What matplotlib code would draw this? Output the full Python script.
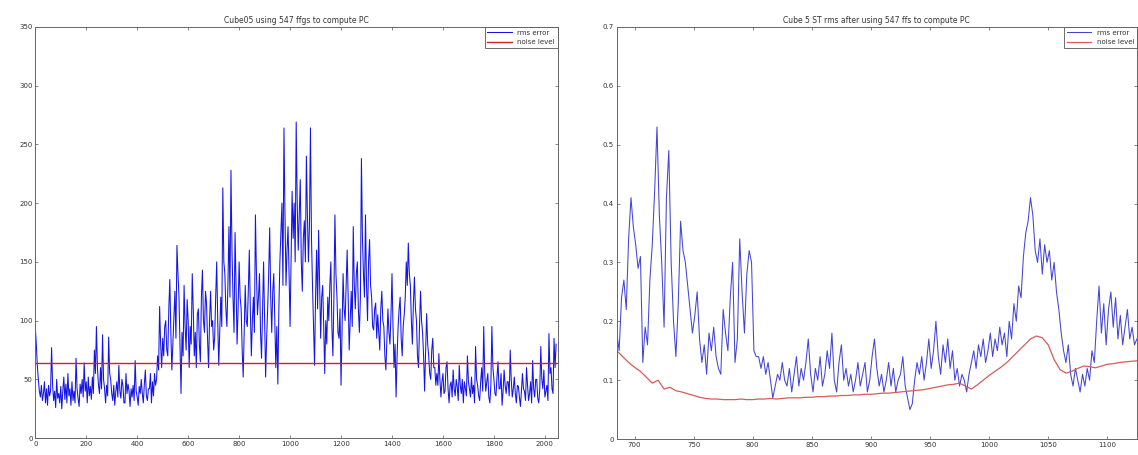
import numpy as np
import matplotlib.pyplot as plt
from matplotlib.ticker import FormatStrFormatter

# left panel: rms error sampled every 4 bands
rms_left = [
    95, 80, 62, 50, 40, 35, 45, 32,
    38, 48, 30, 42, 28, 45, 36, 40,
    77, 45, 32, 40, 26, 50, 34, 38,
    30, 44, 25, 40, 52, 33, 46, 30,
    55, 36, 42, 28, 48, 32, 40, 30,
    68, 42, 34, 27, 46, 38, 50, 35,
    64, 40, 48, 30, 52, 36, 44, 33,
    52, 38, 75, 55, 95, 60, 45, 38,
    60, 42, 88, 50, 42, 30, 45, 36,
    86, 55, 50, 38, 32, 45, 28, 40,
    48, 35, 62, 40, 34, 50, 45, 30,
    30, 55, 38, 46, 40, 27, 42, 35,
    45, 32, 66, 40, 35, 28, 44, 38,
    50, 38, 30, 46, 58, 36, 32, 42,
    42, 55, 30, 48, 36, 55, 45, 50,
    70, 58, 112, 80, 60, 85, 70, 95,
    100, 75, 70, 110, 135, 90, 58, 80,
    100, 125, 85, 164, 140, 120, 80, 38,
    90, 70, 130, 95, 75, 118, 100, 60,
    95, 80, 140, 110, 70, 90, 60, 105,
    110, 80, 65, 120, 143, 100, 90, 125,
    115, 85, 60, 100, 125, 95, 100, 75,
    85, 120, 150, 100, 62, 90, 120, 95,
    213, 150, 140, 110, 95, 130, 180, 120,
    228, 160, 120, 90, 175, 130, 80, 110,
    150, 120, 110, 75, 52, 90, 130, 100,
    95, 125, 160, 110, 70, 100, 120, 90,
    190, 140, 105, 120, 140, 90, 68, 110,
    150, 100, 52, 85, 110, 140, 179, 120,
    90, 125, 140, 100, 60, 95, 46, 110,
    150, 175, 200, 130, 264, 190, 130, 160,
    180, 140, 95, 150, 210, 170, 200, 150,
    269, 200, 160, 190, 220, 150, 125, 170,
    185, 150, 240, 190, 150, 180, 264, 170,
    130, 95, 62, 120, 160, 110, 177, 130,
    85, 120, 130, 95, 55, 100, 80, 120,
    100, 130, 150, 95, 70, 120, 190, 140,
    120, 90, 85, 110, 45, 95, 140, 110,
    100, 130, 160, 120, 75, 100, 125, 95,
    180, 130, 110, 140, 150, 110, 90, 120,
    238, 170, 140, 120, 190, 130, 100, 150,
    169, 130, 120, 95, 92, 110, 115, 85,
    105, 90, 75, 110, 125, 100, 95, 70,
    58, 85, 110, 90, 80, 105, 140, 95,
    60, 80, 35, 70, 95, 110, 120, 85,
    70, 95, 105, 120, 150, 130, 166, 140,
    130, 100, 80, 115, 137, 110, 100, 70,
    60, 95, 125, 100, 90, 70, 40, 75,
    106, 80, 70, 55, 50, 75, 85, 60,
    60, 45, 55, 45, 72, 50, 35, 48,
    55, 38, 40, 60, 65, 42, 30, 45,
    48, 35, 58, 42, 36, 50, 44, 32,
    62, 45, 38, 50, 30, 48, 42, 36,
    70, 48, 42, 35, 52, 38, 45, 30,
    78, 50, 45, 36, 32, 48, 60, 40,
    95, 55, 40, 48, 55, 35, 30, 45,
    95, 60, 50, 38, 36, 52, 65, 42,
    42, 55, 28, 40, 58, 45, 38, 48,
    48, 36, 75, 50, 35, 42, 52, 38,
    30, 45, 44, 35, 27, 40, 55, 42,
    40, 32, 60, 45, 32, 38, 48, 30,
    66, 42, 35, 50, 50, 34, 30, 42,
    78, 50, 42, 58, 35, 40, 45, 32,
    89, 55, 60, 42, 38, 85, 60, 80,
]
noise_left = 64
x_left = np.arange(len(rms_left)) * 4

# right panel: rms error after projection (every 2 units)
x_right = np.arange(685, 1126, 2)
rms_right = [
    0.18, 0.15, 0.24, 0.27, 0.22, 0.34, 0.41, 0.36, 0.33, 0.29,
    0.31, 0.13, 0.19, 0.16, 0.27, 0.33, 0.42, 0.53, 0.38, 0.30,
    0.19, 0.41, 0.49, 0.30, 0.20, 0.14, 0.23, 0.37, 0.32, 0.30,
    0.26, 0.22, 0.18, 0.21, 0.25, 0.17, 0.13, 0.16, 0.11, 0.18,
    0.15, 0.19, 0.14, 0.12, 0.11, 0.22, 0.18, 0.15, 0.24, 0.30,
    0.13, 0.17, 0.34, 0.25, 0.18, 0.28, 0.32, 0.30, 0.15, 0.14,
    0.14, 0.12, 0.14, 0.11, 0.13, 0.10, 0.07, 0.09, 0.11, 0.10,
    0.13, 0.10, 0.09, 0.12, 0.08, 0.11, 0.14, 0.09, 0.12, 0.10,
    0.13, 0.17, 0.11, 0.08, 0.12, 0.10, 0.14, 0.09, 0.11, 0.15,
    0.12, 0.18, 0.10, 0.08, 0.13, 0.16, 0.10, 0.12, 0.09, 0.11,
    0.08, 0.10, 0.13, 0.09, 0.11, 0.13, 0.08, 0.10, 0.14, 0.17,
    0.12, 0.09, 0.11, 0.08, 0.10, 0.13, 0.09, 0.12, 0.08, 0.10,
    0.11, 0.14, 0.09, 0.07, 0.05, 0.06, 0.10, 0.13, 0.11, 0.14,
    0.10, 0.13, 0.17, 0.12, 0.15, 0.20, 0.14, 0.11, 0.16, 0.13,
    0.17, 0.12, 0.15, 0.10, 0.12, 0.09, 0.11, 0.10, 0.08, 0.11,
    0.13, 0.15, 0.12, 0.16, 0.14, 0.17, 0.13, 0.15, 0.18, 0.14,
    0.17, 0.15, 0.19, 0.16, 0.18, 0.14, 0.20, 0.17, 0.23, 0.20,
    0.26, 0.24, 0.31, 0.35, 0.37, 0.41, 0.38, 0.32, 0.30, 0.34,
    0.28, 0.33, 0.30, 0.32, 0.27, 0.30, 0.25, 0.22, 0.18, 0.15,
    0.13, 0.16, 0.11, 0.09, 0.12, 0.10, 0.08, 0.11, 0.09, 0.12,
    0.10, 0.15, 0.13, 0.20, 0.26, 0.18, 0.23, 0.16, 0.22, 0.25,
    0.19, 0.24, 0.17, 0.21, 0.16, 0.19, 0.22, 0.17, 0.19, 0.16,
    0.17,
]
x_noise_right = np.arange(685, 1126, 5)
noise_right = [
    0.150, 0.140, 0.130, 0.122, 0.115, 0.105, 0.095, 0.100, 0.085, 0.088,
    0.082, 0.080, 0.077, 0.074, 0.071, 0.069, 0.068, 0.068, 0.067, 0.067,
    0.067, 0.068, 0.067, 0.067, 0.068, 0.068, 0.069, 0.068, 0.069, 0.070,
    0.070, 0.070, 0.071, 0.071, 0.072, 0.072, 0.073, 0.073, 0.074, 0.074,
    0.075, 0.075, 0.076, 0.076, 0.077, 0.078, 0.078, 0.079, 0.080, 0.081,
    0.082, 0.083, 0.084, 0.086, 0.088, 0.090, 0.092, 0.093, 0.095, 0.090,
    0.085, 0.092, 0.100, 0.108, 0.115, 0.122, 0.130, 0.140, 0.150, 0.160,
    0.170, 0.175, 0.172, 0.160, 0.135, 0.118, 0.112, 0.115, 0.120, 0.124,
    0.123, 0.121, 0.124, 0.127, 0.128, 0.130, 0.131, 0.132, 0.133,
]

plt.rcParams['font.size'] = 5
plt.rcParams['text.color'] = '#333333'
plt.rcParams['xtick.color'] = '#555555'
plt.rcParams['ytick.color'] = '#555555'
plt.rcParams['xtick.labelcolor'] = '#333333'
plt.rcParams['ytick.labelcolor'] = '#333333'

fig = plt.figure(figsize=(11.38, 4.55), dpi=100)
ax1 = fig.add_axes([0.031, 0.037, 0.459, 0.904])
ax2 = fig.add_axes([0.542, 0.035, 0.457, 0.906])

ax1.plot(x_left, rms_left, color='#1414e6', lw=0.75, label='rms error')
ax1.plot([0, 2047], [noise_left, noise_left], color='#d02020', lw=1.0, label='noise level')
ax1.set_xlim(0, 2050)
ax1.set_ylim(0, 350)
ax1.set_xticks(np.arange(0, 2001, 200))
ax1.set_yticks(np.arange(0, 351, 50))
ax1.set_title('Cube05 using 547 ffgs to compute PC', fontsize=5.5, pad=3)

ax2.plot(x_right, rms_right, color='#4444d4', lw=0.75, label='rms error')
ax2.plot(x_noise_right, noise_right, color='#d85a5a', lw=0.9, label='noise level')
ax2.set_xlim(685, 1125)
ax2.set_ylim(0, 0.7)
ax2.set_xticks(np.arange(700, 1101, 50))
ax2.set_yticks(np.arange(0, 0.71, 0.1))
ax2.yaxis.set_major_formatter(FormatStrFormatter('%g'))
ax2.set_title('Cube 5 ST rms after using 547 ffs to compute PC', fontsize=5.5, pad=3)

for ax in (ax1, ax2):
    ax.tick_params(direction='in', length=2.5, width=0.5, pad=2,
                   top=True, right=True)
    for sp in ax.spines.values():
        sp.set_color('#666666')
        sp.set_linewidth(0.7)
    leg = ax.legend(loc='upper right', fontsize=5, fancybox=False,
                    borderaxespad=0, handlelength=3.5, framealpha=1)
    leg.get_frame().set_edgecolor('#555555')
    leg.get_frame().set_linewidth(0.6)

fig.savefig('out.png', dpi=100)
